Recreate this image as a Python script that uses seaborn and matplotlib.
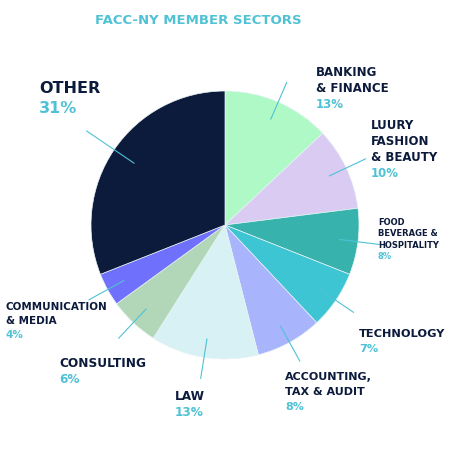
import numpy as np
import matplotlib
matplotlib.use("Agg")
import matplotlib.pyplot as plt
import seaborn as sns

sectors = ["BANKING\n& FINANCE", "LUURY\nFASHION\n& BEAUTY", "FOOD\nBEVERAGE &\nHOSPITALITY",
           "TECHNOLOGY", "ACCOUNTING,\nTAX & AUDIT", "LAW", "CONSULTING",
           "COMMUNICATION\n& MEDIA", "OTHER"]
shares = [13, 10, 8, 7, 8, 13, 6, 4, 31]
colors = ["#aef9c6", "#dacbf2", "#37b2ad", "#3dc5d3", "#a8b4fc",
          "#d7f1f4", "#b2d7b8", "#6f70fb", "#0c1a3b"]
# label anchor (pixel coords, top-left), font size
label_pos = [(316, 66), (371, 119), (378, 218), (359, 329), (285, 372),
             (175, 390), (59, 357), (6, 302), (39, 81)]
label_size = [8.5, 8.5, 6.0, 8.2, 8.0, 8.7, 8.7, 7.5, 11.5]

navy = "#0c1a3b"
cyan = "#4fc2d5"

sns.set_theme(style="white")
plt.rcParams["font.family"] = ["DejaVu Sans"]

fig = plt.figure(figsize=(4.5, 4.5), dpi=100)
ax = fig.add_axes([0, 0, 1, 1])

cx, cy, R = 225, 225, 134
wedges, _ = ax.pie(shares, colors=colors, startangle=90, counterclock=False,
                   center=(cx, 450 - cy), radius=R, frame=True,
                   wedgeprops=dict(linewidth=0.5, edgecolor="#e8f4f6"))
ax.set_xlim(0, 450)
ax.set_ylim(0, 450)
ax.set_aspect("equal")
ax.axis("off")

for w, name, share, (lx, ly), fs in zip(wedges, sectors, shares, label_pos, label_size):
    mid = np.deg2rad((w.theta1 + w.theta2) / 2)
    r0, r1 = (0.82, 1.25) if name == "OTHER" else (0.86, 1.16)
    ax.plot([cx + r0 * R * np.cos(mid), cx + r1 * R * np.cos(mid)],
            [450 - cy + r0 * R * np.sin(mid), 450 - cy + r1 * R * np.sin(mid)],
            color=cyan, lw=0.8)
    pitch = fs * 100 / 72 * (1.25 if name == "OTHER" else 1.35)
    lines = name.split("\n")
    for i, line in enumerate(lines):
        ax.text(lx, 450 - ly - i * pitch, line, ha="left", va="top", fontsize=fs,
                fontweight="bold", color=navy)
    ax.text(lx, 450 - ly - len(lines) * pitch, f"{share}%", ha="left", va="top",
            fontsize=fs, fontweight="bold", color=cyan)

ax.text(198, 450 - 21, "FACC-NY MEMBER SECTORS", ha="center", va="center",
        fontsize=9.5, fontweight="bold", color=cyan)

fig.savefig("out.png", dpi=100, facecolor="white")
